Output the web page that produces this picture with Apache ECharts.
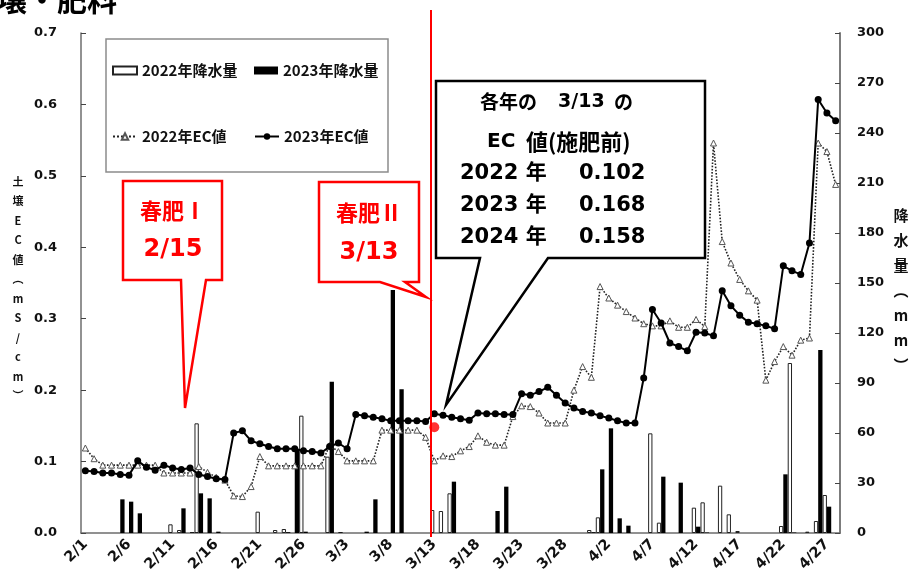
<!DOCTYPE html>
<html><head><meta charset="utf-8">
<script src="https://cdn.jsdelivr.net/npm/echarts@6/dist/echarts.min.js"></script>
<style>html,body{margin:0;padding:0;background:#fff;}#c{width:911px;height:577px;}</style>
</head><body><div id="c"></div>
<script>
// ---- data ----
const categories = [
 '2/1','2/2','2/3','2/4','2/5','2/6','2/7','2/8','2/9','2/10','2/11','2/12','2/13','2/14','2/15','2/16','2/17','2/18','2/19','2/20','2/21','2/22','2/23','2/24','2/25','2/26','2/27','2/28',
 '3/1','3/2','3/3','3/4','3/5','3/6','3/7','3/8','3/9','3/10','3/11','3/12','3/13','3/14','3/15','3/16','3/17','3/18','3/19','3/20','3/21','3/22','3/23','3/24','3/25','3/26','3/27','3/28','3/29','3/30','3/31',
 '4/1','4/2','4/3','4/4','4/5','4/6','4/7','4/8','4/9','4/10','4/11','4/12','4/13','4/14','4/15','4/16','4/17','4/18','4/19','4/20','4/21','4/22','4/23','4/24','4/25','4/26','4/27','4/28'
];
const rain2022 = [
 null,null,null,null,null,null,null,null,null,null,5.2,1.8,null,65.8,null,null,null,null,null,null,12.8,null,1.8,2.4,null,70.4,null,null,
 45.8,null,null,null,null,null,null,null,null,null,null,null,13.8,13.2,23.8,null,null,null,null,null,null,null,null,null,null,null,null,null,null,null,1.8,
 9.4,null,null,null,null,null,59.8,6.2,null,null,null,15.2,18.4,null,28.4,11.2,1.2,null,null,null,null,4.2,102,null,0.8,7.2,22.8,null
];
const rain2023 = [
 null,null,null,null,20.2,18.8,11.8,null,null,null,null,14.8,0.5,23.8,20.8,0.8,null,null,null,null,null,null,null,0.5,49.8,0.8,null,null,
 90.8,0.5,null,null,0.8,20.2,null,145.8,86.2,null,null,null,null,null,30.8,null,null,null,null,13.2,27.8,null,null,null,null,null,null,null,null,null,0.5,
 38.2,62.8,8.8,4.4,null,null,null,33.8,null,30.2,null,3.8,0.3,null,null,null,null,null,null,null,null,35.2,0.3,null,null,109.8,15.8
];
const ec2022 = [
 0.119,0.104,0.095,0.095,0.095,0.095,0.095,0.095,0.095,0.084,0.084,0.084,0.084,0.093,0.085,0.078,0.074,0.052,0.051,0.065,0.107,0.094,0.094,0.094,0.094,0.094,0.094,0.094,
 0.123,0.114,0.101,0.101,0.101,0.101,0.144,0.144,0.144,0.144,0.144,0.134,0.101,0.108,0.107,0.115,0.121,0.136,0.127,0.123,0.123,0.163,0.178,0.177,0.168,0.154,0.154,0.154,0.200,0.233,0.218,
 0.345,0.329,0.319,0.310,0.301,0.293,0.290,0.290,0.297,0.288,0.288,0.299,0.289,0.546,0.408,0.378,0.355,0.339,0.326,0.214,0.240,0.261,0.249,0.270,0.273,0.546,0.534,0.488
];
const ec2023 = [
 0.087,0.086,0.084,0.084,0.082,0.081,0.101,0.092,0.088,0.095,0.091,0.089,0.091,0.082,0.079,0.076,0.075,0.140,0.143,0.129,0.125,0.121,0.118,0.118,0.118,0.115,0.114,0.112,
 0.121,0.126,0.118,0.166,0.164,0.162,0.160,0.157,0.157,0.157,0.157,0.156,0.167,0.165,0.162,0.160,0.158,0.168,0.167,0.167,0.166,0.166,0.195,0.193,0.198,0.204,0.193,0.182,0.175,0.170,0.168,
 0.164,0.161,0.157,0.154,0.154,0.217,0.313,0.294,0.266,0.261,0.255,0.281,0.280,0.276,0.339,0.318,0.305,0.295,0.293,0.290,0.286,0.374,0.367,0.362,0.406,0.607,0.588,0.577
];
const ec2024Point = [['3/13', 0.148]];
const seriesNames = ['2022年降水量','2023年降水量','2022年EC値','2023年EC値'];
const noteYears = ['2022 年','2023 年','2024 年'];
const noteValues = ['0.102','0.168','0.158'];

const FONT = "'DejaVu Sans','Noto Sans CJK JP',sans-serif";
const JFONT = "'Noto Sans CJK JP','DejaVu Sans',sans-serif";
const AXIS_GREY = '#6e6e6e';

const chart = echarts.init(document.getElementById('c'), null, {renderer:'canvas'});

function legendFor(name, left, top, icon){
  const l = {data:[name], left:left, top:top, padding:0, itemWidth:24, itemHeight:8, itemGap:5,
    selectedMode:false,
    textStyle:{fontFamily:JFONT, fontWeight:'bold', fontSize:15, color:'#111'}};
  if (icon) l.icon = icon;
  return l;
}
function txt(text, x, y, size, color, align, family){
  return {type:'text', x:x, y:y, z:110,
    style:{text:text, fill:color, font:'bold '+size+'px '+(family||JFONT),
      textAlign:align||'center', textVerticalAlign:'middle'}};
}

const option = {
  animation:false,
  backgroundColor:'#fff',
  grid:{left:81, right:71, top:33, bottom:44, containLabel:false},
  legend:[
    legendFor(seriesNames[0],112,63,'rect'),
    legendFor(seriesNames[1],254,63,'rect'),
    legendFor(seriesNames[2],112,129),
    legendFor(seriesNames[3],254,129)
  ],
  xAxis:{type:'category', data:categories, boundaryGap:true,
    axisLine:{show:true, onZero:false, lineStyle:{color:AXIS_GREY, width:1.5}},
    axisTick:{show:false},
    axisLabel:{interval:4, rotate:45, margin:9, fontFamily:FONT, fontWeight:'bold', fontSize:14.5, color:'#111'}},
  yAxis:[
    {type:'value', min:0, max:0.7, interval:0.1, position:'left',
      axisLine:{show:true, lineStyle:{color:AXIS_GREY, width:1.5}},
      axisTick:{show:true, inside:true, length:5, lineStyle:{color:'#444', width:1}},
      splitLine:{show:false},
      axisLabel:{margin:24, formatter:v=>v.toFixed(1), fontFamily:FONT, fontWeight:'bold', fontSize:13, color:'#111'}},
    {type:'value', min:0, max:300, interval:30, position:'right',
      axisLine:{show:true, lineStyle:{color:AXIS_GREY, width:1.8}},
      axisTick:{show:true, inside:true, length:5, lineStyle:{color:'#444', width:1}},
      splitLine:{show:false},
      axisLabel:{margin:17, fontFamily:FONT, fontWeight:'bold', fontSize:13, color:'#111'}}
  ],
  series:[
    {name:seriesNames[0], type:'bar', yAxisIndex:1, data:rain2022, barWidth:4.3, barGap:'0%',
      itemStyle:{color:'#fff', borderColor:'#222', borderWidth:1}, z:2},
    {name:seriesNames[1], type:'bar', yAxisIndex:1, data:rain2023, barWidth:4.3, barGap:'0%',
      itemStyle:{color:'#000'}, z:2},
    {name:seriesNames[2], type:'line', yAxisIndex:0, data:ec2022, symbol:'triangle', symbolSize:6,
      showSymbol:true, showAllSymbol:true,
      lineStyle:{type:'dotted', color:'#222', width:1.6},
      itemStyle:{color:'#fff', borderColor:'#555', borderWidth:1}, z:3},
    {name:seriesNames[3], type:'line', yAxisIndex:0, data:ec2023, symbol:'circle', symbolSize:7,
      showSymbol:true, showAllSymbol:true,
      lineStyle:{color:'#000', width:2},
      itemStyle:{color:'#000'}, z:4},
    {name:'2024', type:'scatter', yAxisIndex:0, data:ec2024Point, symbolSize:10,
      itemStyle:{color:'#ff0000'}, z:6}
  ],
  graphic:[
    {type:'text', x:-33, y:15, z:110, style:{text:'土壌・肥料', fill:'#000', font:'bold 30px '+JFONT, textAlign:'left', textVerticalAlign:'bottom'}},
    {type:'rect', z:0, shape:{x:106, y:39, width:282, height:133}, style:{fill:'#fff', stroke:'#8c8c8c', lineWidth:1.5}},
    {type:'text', x:18, y:289, z:110, style:{text:'土\n壌\nE\nC\n値\n︵\nm\nS\n/\nc\nm\n︶', fill:'#111', font:'bold 11px '+JFONT, lineHeight:19.5, textAlign:'center', textVerticalAlign:'middle'}},
    {type:'text', x:901, y:290, z:110, style:{text:'降\n水\n量\n︵\nm\nm\n︶', fill:'#111', font:'bold 15px '+JFONT, lineHeight:25, textAlign:'center', textVerticalAlign:'middle'}},
    {type:'line', z:5, shape:{x1:431, y1:10, x2:431, y2:537}, style:{stroke:'#ff0000', lineWidth:2}},
    {type:'polygon', z:100, shape:{points:[[123,181],[222,181],[222,280],[206,280],[185,408],[181,280],[123,280]]},
      style:{fill:'#fff', stroke:'#ff0000', lineWidth:2.5}},
    txt('春肥Ⅰ', 173, 211, 22, '#ff0000'),
    txt('2/15', 173, 250, 24, '#ff0000', 'center', FONT),
    {type:'polygon', z:100, shape:{points:[[319,182],[419,182],[419,282],[405,282],[426,297],[380,282],[319,282]]},
      style:{fill:'#fff', stroke:'#ff0000', lineWidth:2.5}},
    txt('春肥Ⅱ', 369, 213, 22, '#ff0000'),
    txt('3/13', 369, 253, 24, '#ff0000', 'center', FONT),
    {type:'polygon', z:100, shape:{points:[[436,81],[705,81],[705,258],[548,258],[446,405],[480,258],[436,258]]},
      style:{fill:'#fff', stroke:'#000', lineWidth:2.5}},
    txt('各年の', 480, 102, 19, '#000', 'left'),
    txt('3/13', 558, 102, 19, '#000', 'left', FONT),
    txt('の', 614, 102, 19, '#000', 'left'),
    txt('EC', 487, 142, 20, '#000', 'left', FONT),
    txt('値(施肥前)', 526, 142, 22, '#000', 'left'),
    txt(noteYears[0], 460, 174, 21, '#000', 'left', FONT),
    txt(noteYears[1], 460, 206, 21, '#000', 'left', FONT),
    txt(noteYears[2], 460, 238, 21, '#000', 'left', FONT),
    txt(noteValues[0], 579, 174, 21, '#000', 'left', FONT),
    txt(noteValues[1], 579, 206, 21, '#000', 'left', FONT),
    txt(noteValues[2], 579, 238, 21, '#000', 'left', FONT)
  ]
};
chart.setOption(option);
</script>
</body></html>
